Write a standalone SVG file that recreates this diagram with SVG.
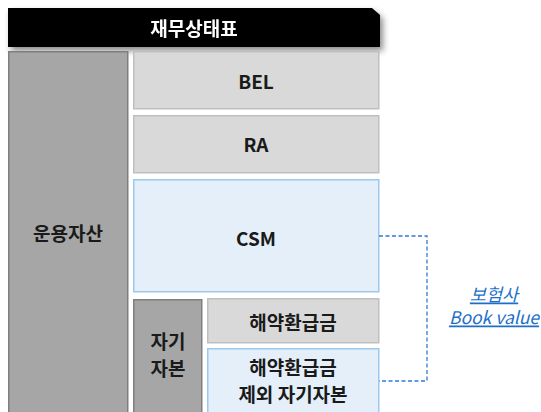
<svg xmlns="http://www.w3.org/2000/svg" width="541" height="412" viewBox="0 0 541 412">
<defs>
<filter id="sh" x="-5%" y="-20%" width="115%" height="160%">
<feDropShadow dx="3" dy="4" stdDeviation="3" flood-color="#000" flood-opacity="0.45"/>
</filter>
</defs>
<style>
text{font-family:"Noto Sans CJK KR","Noto Sans",sans-serif;font-weight:bold;text-anchor:middle;dominant-baseline:central}
.lbl{font-size:19px;fill:#1a1a1a}
.dark{fill:#a6a6a6;stroke:#7f7f7f;stroke-width:1.5}
.grey{fill:#d9d9d9;stroke:#bfbfbf;stroke-width:1.5}
.blue{fill:#e4eff9;stroke:#9dc8f0;stroke-width:1.5}
.link{fill:none;stroke:#2e7bd6;stroke-width:1.3;stroke-dasharray:4 2.5}
.bv{font-size:17.5px;fill:#1f6fc9;font-style:italic;font-weight:normal;text-decoration:underline}
</style>
<g id="header" filter="url(#sh)">
<path d="M8 8 H372 L380 15 V47 H8 Z" fill="#000"/>
<text x="194" y="27" style="font-size:19px;fill:#fff">재무상태표</text>
</g>
<g id="assets">
<rect class="dark" x="8.75" y="51.75" width="119" height="362"/>
<text class="lbl" x="68" y="232">운용자산</text>
</g>
<g id="bel">
<rect class="grey" x="133.75" y="51.75" width="245" height="57"/>
<text class="lbl" x="256" y="80">BEL</text>
</g>
<g id="ra">
<rect class="grey" x="133.75" y="115.75" width="245" height="57"/>
<text class="lbl" x="256" y="143">RA</text>
</g>
<g id="csm">
<rect class="blue" x="133.75" y="179.75" width="245" height="112"/>
<text class="lbl" x="256" y="237">CSM</text>
</g>
<g id="equity">
<rect class="dark" x="133.75" y="299.75" width="68" height="114"/>
<text class="lbl" x="168" y="340">자기</text>
<text class="lbl" x="168" y="367">자본</text>
</g>
<g id="surrender">
<rect class="grey" x="207.75" y="298.75" width="171" height="44"/>
<text class="lbl" x="293" y="321">해약환급금</text>
</g>
<g id="other-equity">
<rect class="blue" x="207.75" y="348.75" width="171" height="65"/>
<text class="lbl" x="293" y="366">해약환급금</text>
<text class="lbl" x="293" y="393">제외 자기자본</text>
</g>
<g id="connectors">
<path class="link" d="M379 236 H427 V381 H379"/>
</g>
<g id="book-value">
<text class="bv" x="494" y="293">보험사</text>
<text class="bv" x="494" y="316">Book value</text>
</g>
</svg>
